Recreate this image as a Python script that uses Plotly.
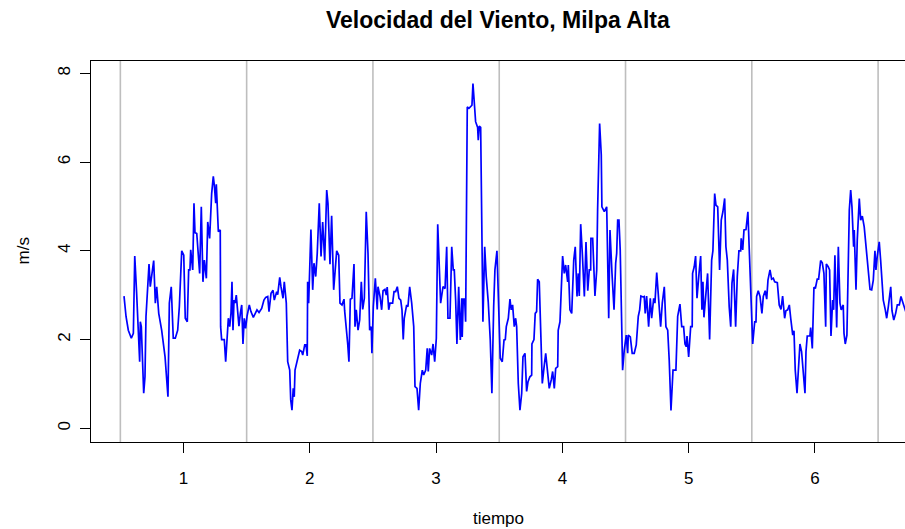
import plotly.graph_objects as go

title_text = "Velocidad del Viento, Milpa Alta"
x_title = "tiempo"
y_title = "m/s"
x_ticks = [1, 2, 3, 4, 5, 6]
y_ticks = [0, 2, 4, 6, 8]
day_separators = [0.5, 1.5, 2.5, 3.5, 4.5, 5.5, 6.5]

tiempo = [
    0.529, 0.545, 0.563, 0.576, 0.587, 0.603, 0.614, 0.629, 0.653, 0.658, 0.666, 0.685, 0.695, 0.703,
    0.727, 0.737, 0.751, 0.764, 0.777, 0.788, 0.804, 0.814, 0.827, 0.854, 0.877, 0.888, 0.903, 0.919,
    0.935, 0.954, 0.967, 0.986, 1.002, 1.014, 1.030, 1.041, 1.051, 1.057, 1.073, 1.083,
    1.091, 1.105, 1.128, 1.141, 1.154, 1.165, 1.181, 1.192, 1.207, 1.223, 1.236, 1.244, 1.255, 1.260,
    1.276, 1.291, 1.294, 1.302, 1.323, 1.334, 1.344, 1.355, 1.366, 1.376, 1.384, 1.392, 1.400, 1.408,
    1.418, 1.429, 1.439, 1.450, 1.461, 1.471, 1.481, 1.492, 1.503, 1.521, 1.534, 1.553, 1.566, 1.582,
    1.598, 1.619, 1.637, 1.651, 1.667, 1.677, 1.693, 1.709, 1.719, 1.738, 1.746, 1.762, 1.772, 1.788,
    1.798, 1.814, 1.825, 1.841, 1.849, 1.859, 1.869, 1.877, 1.883, 1.899, 1.920,
    1.936, 1.944, 1.960, 1.970, 1.980, 1.983, 1.991, 2.009, 2.023, 2.033, 2.047, 2.059, 2.075, 2.089,
    2.102, 2.118, 2.134, 2.144, 2.160, 2.173, 2.189, 2.202, 2.213, 2.229, 2.239, 2.255, 2.271, 2.276,
    2.292, 2.300, 2.310, 2.321, 2.334, 2.350, 2.358, 2.368, 2.382, 2.395, 2.408, 2.419, 2.432, 2.447,
    2.461, 2.474, 2.487, 2.492, 2.503, 2.519, 2.534, 2.540, 2.556, 2.569, 2.580, 2.595, 2.606, 2.613,
    2.625, 2.635, 2.656, 2.667, 2.680, 2.693, 2.706, 2.720, 2.730, 2.740, 2.748,
    2.767, 2.777, 2.791, 2.807, 2.823, 2.833, 2.849, 2.862, 2.875, 2.891, 2.902, 2.918, 2.930, 2.938,
    2.949, 2.965, 2.976, 2.989, 3.002, 3.013, 3.025, 3.036, 3.055, 3.071, 3.084, 3.094, 3.110, 3.124,
    3.136, 3.144, 3.155, 3.165, 3.179, 3.192, 3.203, 3.207, 3.215, 3.226, 3.234, 3.247, 3.260, 3.271,
    3.284, 3.292, 3.302, 3.313, 3.329, 3.334, 3.342, 3.353, 3.371, 3.385, 3.397, 3.413, 3.429, 3.442,
    3.456, 3.466, 3.482, 3.498, 3.508, 3.524, 3.538, 3.548, 3.556, 3.572,
    3.585, 3.595, 3.606, 3.619, 3.630, 3.638, 3.651, 3.664, 3.678, 3.688, 3.704, 3.717, 3.728, 3.743,
    3.757, 3.759, 3.775, 3.785, 3.796, 3.804, 3.817, 3.830, 3.841, 3.854, 3.868, 3.880, 3.896, 3.912,
    3.923, 3.936, 3.947, 3.963, 3.967, 3.981, 3.991, 4.002, 4.015, 4.026, 4.042, 4.047, 4.060, 4.074,
    4.090, 4.102, 4.116, 4.126, 4.134, 4.145, 4.158, 4.174, 4.187, 4.201, 4.213, 4.224, 4.226, 4.240,
    4.258, 4.272, 4.279, 4.295, 4.308, 4.313, 4.332, 4.351, 4.367, 4.377, 4.393, 4.409,
    4.422, 4.430, 4.438, 4.448, 4.458, 4.469, 4.477, 4.490, 4.506, 4.517, 4.522, 4.538, 4.553, 4.569,
    4.585, 4.601, 4.612, 4.622, 4.638, 4.648, 4.656, 4.667, 4.683, 4.696, 4.707, 4.723, 4.733, 4.747,
    4.759, 4.778, 4.791, 4.807, 4.820, 4.834, 4.846, 4.860, 4.876, 4.899, 4.913, 4.931, 4.945, 4.960,
    4.971, 4.981, 4.987, 5.000, 5.016, 5.028, 5.031, 5.044, 5.055, 5.066, 5.082, 5.095, 5.105, 5.113,
    5.121, 5.135, 5.150, 5.166, 5.182, 5.192, 5.206, 5.216, 5.230, 5.245,
    5.258, 5.271, 5.285, 5.295, 5.306, 5.321, 5.333, 5.343, 5.356, 5.372, 5.385, 5.398, 5.412, 5.416,
    5.428, 5.438, 5.454, 5.469, 5.485, 5.496, 5.507, 5.523, 5.533, 5.538, 5.551, 5.565, 5.580, 5.591,
    5.606, 5.618, 5.628, 5.644, 5.657, 5.670, 5.681, 5.702, 5.717, 5.731, 5.744, 5.760, 5.770, 5.784,
    5.797, 5.808, 5.824, 5.834, 5.844, 5.858, 5.871,
    5.881, 5.894, 5.907, 5.921, 5.929, 5.939, 5.960, 5.966, 5.979, 5.992, 6.003, 6.018, 6.029, 6.045,
    6.058, 6.071, 6.085, 6.090, 6.105, 6.116, 6.127, 6.140, 6.148, 6.158, 6.172, 6.185, 6.198, 6.208,
    6.224, 6.230, 6.240, 6.253, 6.272, 6.283, 6.293, 6.306, 6.311, 6.325, 6.335, 6.351, 6.362, 6.375,
    6.390, 6.404, 6.420, 6.436, 6.449, 6.462, 6.475, 6.483, 6.493, 6.509, 6.520, 6.528, 6.541, 6.557,
    6.568, 6.581, 6.600, 6.610, 6.624, 6.639, 6.652, 6.668, 6.681, 6.694, 6.705, 6.720,
]

velocidad = [
    2.98, 2.52, 2.21, 2.10, 2.03, 2.14, 3.88, 3.04, 1.50, 2.40, 2.29, 0.79, 1.16, 2.52,
    3.70, 3.19, 3.57, 3.78, 2.82, 3.19, 2.59, 2.44, 2.21, 1.61, 0.71, 2.82, 3.19, 2.03,
    2.03, 2.21, 2.74, 4.00, 3.90, 2.48, 2.40, 3.57, 3.57, 4.02, 3.57, 5.07,
    4.41, 4.39, 3.49, 4.99, 3.30, 3.79, 3.38, 4.65, 4.28, 5.29, 5.68, 5.48, 5.07, 5.50,
    4.43, 4.47, 2.29, 2.00, 2.00, 1.50, 2.00, 2.48, 2.29, 2.59, 3.30, 2.21, 2.89, 2.82,
    3.00, 2.67, 2.30, 2.59, 2.78, 1.90, 2.48, 2.25, 2.52, 2.78, 2.63, 2.50, 2.59, 2.67,
    2.61, 2.70, 2.89, 2.95, 2.97, 2.63, 3.04, 3.11, 2.89, 3.08, 3.01, 3.40, 3.19, 2.93,
    3.30, 2.82, 1.50, 1.31, 0.64, 0.41, 0.90, 0.71, 1.31, 1.50, 1.76,
    1.73, 1.65, 1.88, 1.88, 1.63, 3.30, 2.82, 4.48, 3.12, 3.72, 3.42, 3.94, 5.07, 3.87,
    4.65, 3.78, 5.37, 5.07, 3.70, 4.79, 3.12, 3.57, 4.00, 3.90, 2.82, 2.78, 2.91, 2.65,
    2.21, 1.91, 1.50, 2.91, 2.93, 3.70, 2.29, 2.67, 2.21, 2.44, 3.30, 2.68, 2.93, 4.88,
    3.94, 2.21, 2.29, 1.69, 2.74, 3.38, 2.68, 3.19, 2.97, 2.67, 3.10, 3.13, 3.00, 3.18,
    2.67, 2.82, 2.82, 3.08, 3.08, 3.19, 2.93, 2.89, 2.67, 2.00, 2.48,
    2.78, 2.74, 3.19, 2.82, 2.29, 0.94, 0.90, 0.41, 1.01, 1.31, 1.20, 1.31, 1.80, 1.28,
    1.80, 1.65, 1.90, 1.50, 2.03, 4.60, 3.49, 2.82, 3.19, 3.15, 4.09, 2.48, 2.48, 4.09,
    3.57, 3.57, 2.89, 1.90, 3.19, 1.99, 2.93, 2.06, 2.91, 2.91, 2.40, 7.24, 7.21, 7.24,
    7.28, 7.77, 7.28, 6.91, 6.78, 6.49, 6.81, 6.78, 2.40, 4.09, 3.42, 2.85, 1.99, 0.79,
    2.74, 3.57, 4.00, 2.29, 1.58, 1.50, 1.99, 2.00, 2.29, 2.48,
    2.91, 2.67, 2.78, 2.29, 2.48, 2.29, 1.01, 0.41, 0.79, 1.61, 1.69, 0.83, 1.05, 1.16,
    1.20, 1.90, 2.00, 2.59, 2.63, 3.36, 3.30, 2.06, 1.01, 1.35, 1.69, 1.35, 0.90, 1.09,
    1.28, 0.90, 1.35, 1.39, 2.21, 2.40, 3.34, 3.88, 3.49, 3.68, 3.30, 3.68, 2.67, 2.59,
    3.79, 4.09, 2.97, 3.49, 2.98, 4.60, 3.94, 2.97, 4.20, 3.10, 3.57, 3.57, 4.28, 4.28,
    2.98, 3.57, 4.92, 6.87, 6.16, 4.99, 4.88, 4.99, 2.48, 4.47, 3.49, 2.67,
    3.72, 3.94, 4.69, 4.69, 4.02, 2.67, 1.31, 1.76, 2.10, 1.69, 2.10, 2.06, 1.69, 1.69,
    1.88, 2.52, 2.67, 2.98, 2.96, 2.97, 2.59, 2.98, 2.29, 2.93, 2.48, 2.93, 2.82, 3.51,
    2.97, 2.29, 2.82, 3.19, 2.29, 2.21, 1.54, 0.40, 1.31, 1.31, 2.52, 2.80, 2.29, 2.29,
    1.90, 1.84, 2.08, 1.61, 2.29, 2.29, 3.49, 3.64, 3.88, 2.93, 3.49, 3.88, 2.67, 3.30,
    2.50, 3.04, 3.49, 2.00, 3.79, 4.00, 5.29, 5.03, 4.99, 3.57,
    4.69, 4.88, 5.18, 4.09, 3.79, 2.74, 2.29, 3.27, 3.58, 2.29, 3.42, 4.00, 4.00, 4.28,
    4.02, 4.47, 4.48, 4.88, 3.57, 2.74, 1.90, 2.40, 2.40, 2.97, 3.10, 2.97, 2.59, 2.97,
    3.10, 2.91, 3.34, 3.57, 3.36, 3.38, 3.30, 3.28, 2.78, 2.68, 2.98, 2.48, 2.65, 2.67,
    2.78, 2.48, 2.10, 2.20, 1.31, 0.79, 1.31,
    1.90, 1.73, 1.31, 0.79, 1.73, 2.08, 2.08, 2.27, 1.80, 3.18, 3.15, 3.36, 3.36, 3.78,
    3.73, 3.49, 2.29, 3.70, 3.64, 3.57, 2.08, 2.89, 2.67, 3.90, 2.27, 4.09, 2.82, 2.67,
    2.78, 2.14, 1.90, 2.10, 4.92, 5.37, 4.99, 4.09, 4.47, 3.12, 4.24, 5.18, 4.69, 4.78,
    4.54, 4.09, 3.57, 3.13, 3.12, 3.34, 4.00, 3.57, 3.87, 4.20, 3.79, 3.34, 2.89, 2.67,
    2.48, 2.74, 3.19, 2.65, 2.44, 2.59, 2.78, 2.78, 2.97, 2.85, 2.74, 2.62,
]

FONT = "Liberation Sans, Arial, Helvetica, sans-serif"

fig = go.Figure()
fig.add_trace(go.Scatter(
    x=tiempo, y=velocidad, mode="lines",
    line=dict(color="#0000FF", width=1.7),
    showlegend=False, hoverinfo="skip",
))

for s in day_separators:
    fig.add_shape(type="line", xref="x", yref="paper", x0=s, x1=s, y0=0, y1=1,
                  line=dict(color="#BEBEBE", width=1.6), layer="below")

fig.update_layout(
    width=905, height=529,
    margin=dict(l=91, r=0, t=61, b=87, autoexpand=False),
    paper_bgcolor="white", plot_bgcolor="white",
    font=dict(family=FONT, size=17, color="black"),
    showlegend=False,
    xaxis=dict(
        range=[0.2676, 6.713], tickmode="array", tickvals=x_ticks,
        ticktext=[str(v) for v in x_ticks],
        showgrid=False, zeroline=False, automargin=False,
        showline=True, mirror=True, linecolor="black", linewidth=1.3,
        ticks="outside", ticklen=10, tickwidth=1.3, tickcolor="black",
        ticklabelstandoff=10,
        tickfont=dict(family=FONT, size=17, color="black"),
    ),
    yaxis=dict(
        range=[-0.309, 8.277], tickmode="array", tickvals=y_ticks,
        ticktext=[str(v) for v in y_ticks],
        showgrid=False, zeroline=False, automargin=False,
        showline=True, mirror=False, linecolor="black", linewidth=1.3,
        ticks="outside", ticklen=10, tickwidth=1.3, tickcolor="black",
        tickangle=-90, ticklabelstandoff=3,
        tickfont=dict(family=FONT, size=17, color="black"),
    ),
    annotations=[
        dict(text="<b>" + title_text + "</b>", xref="paper", yref="paper",
             x=0.5, y=1, yshift=41, xanchor="center", yanchor="middle",
             showarrow=False, font=dict(family=FONT, size=23, color="black")),
        dict(text=x_title, xref="paper", yref="paper", x=0.5, y=0, yshift=-76,
             xanchor="center", yanchor="middle", showarrow=False,
             font=dict(family=FONT, size=17, color="black")),
        dict(text=y_title, xref="paper", yref="paper", x=0, xshift=-68, y=0.5,
             xanchor="center", yanchor="middle", textangle=-90, showarrow=False,
             font=dict(family=FONT, size=17, color="black")),
    ],
)

fig.write_html(
    "out.html",
    config={"displayModeBar": False},
    post_script="document.body.style.margin='0';document.body.style.overflow='hidden';",
)
